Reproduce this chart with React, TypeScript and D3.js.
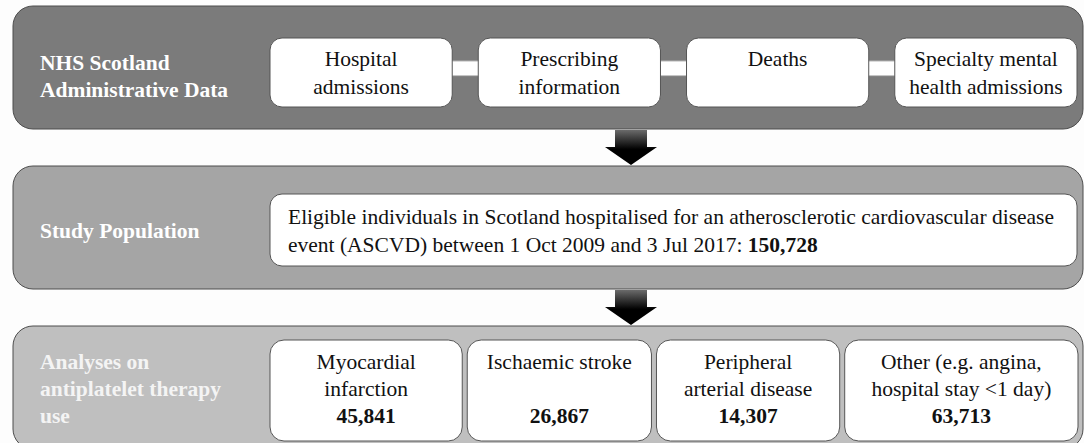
import React from 'react';
import * as d3 from 'd3';

// Flow of the study population, three stacked stages
const stageLabels = [
  ['NHS Scotland', 'Administrative Data'],
  ['Study Population'],
  ['Analyses on', 'antiplatelet therapy', 'use'],
];

const dataSources = [
  ['Hospital', 'admissions'],
  ['Prescribing', 'information'],
  ['Deaths'],
  ['Specialty mental', 'health admissions'],
];

const populationLines = [
  'Eligible individuals in Scotland hospitalised for an atherosclerotic cardiovascular disease',
  'event (ASCVD) between 1 Oct 2009 and 3 Jul 2017: ',
];
const populationTotal = 150728;

const subgroups = [
  ['Myocardial', 'infarction'],
  ['Ischaemic stroke'],
  ['Peripheral', 'arterial disease'],
  ['Other (e.g. angina,', 'hospital stay <1 day)'],
];
const subgroupCounts = [45841, 26867, 14307, 63713];

// layout
const width = 1084;
const height = 443;
const font = 'Liberation Serif, DejaVu Serif, serif';
const fs = 21.5;
const panelFill = ['#7b7b7b', '#a5a5a5', '#bfbfbf'];
const labelFill = ['#ffffff', '#ffffff', '#f4f4f4'];
const subgroupWeights = [192, 184, 183, 233];

const fmt = d3.format(',');

const App = () => {
  const panelY = d3.scaleLinear().domain([0, 1]).range([6, 166]);
  const panelH = 123;
  const panelX0 = 13;
  const panelX1 = 1083;
  const boxX0 = 270;
  const boxX1 = 1077;

  const sourceX = d3.scaleBand()
    .domain(d3.range(dataSources.length))
    .range([boxX0, boxX1])
    .paddingInner(0.125);

  // subgroup boxes of unequal width, packed with a small gap
  const gap = 5;
  const totalW = d3.sum(subgroupWeights);
  const avail = 1078 - boxX0 - gap * (subgroupWeights.length - 1);
  const wScale = d3.scaleLinear().domain([0, totalW]).range([0, avail]);
  const cum = d3.cumsum([0, ...subgroupWeights]);
  const subX = (i) => boxX0 + wScale(cum[i]) + gap * i;
  const subW = (i) => wScale(subgroupWeights[i]);

  const arrowX = 631;

  const arrow = (i) => {
    const top = panelY(i) + panelH + 1;
    const tip = panelY(i + 1) - 1;
    const headTop = tip - 18;
    const p = d3.path();
    p.moveTo(arrowX - 16, top);
    p.lineTo(arrowX + 16, top);
    p.lineTo(arrowX + 16, headTop);
    p.lineTo(arrowX + 26, headTop);
    p.lineTo(arrowX, tip);
    p.lineTo(arrowX - 26, headTop);
    p.lineTo(arrowX - 16, headTop);
    p.closePath();
    return <path key={'a' + i} d={p.toString()} fill="url(#arrowGrad)" />;
  };

  const label = (i) => (
    <text key={'l' + i} style={{ fontFamily: font }} fontWeight="bold" fontSize={fs} fill={labelFill[i]}>
      {stageLabels[i].map((s, j) => (
        <tspan key={j} x={40} y={panelY(i) + (i === 0 ? 64 : i === 1 ? 72 : 43) + j * 27}>{s}</tspan>
      ))}
    </text>
  );

  const y0 = panelY(0);
  const y1 = panelY(1);
  const y2 = panelY(2);

  return (
    <svg width={width} height={height} style={{ position: 'absolute', left: 0, top: 0, background: '#fdfdfd' }}>
      <defs>
        <linearGradient id="arrowGrad" x1="0" y1="0" x2="0" y2="1">
          <stop offset="0" stopColor="#6a6a6a" />
          <stop offset="0.55" stopColor="#000" />
          <stop offset="1" stopColor="#000" />
        </linearGradient>
      </defs>

      {[0, 1, 2].map((i) => (
        <rect key={'p' + i} x={panelX0} y={panelY(i)} width={panelX1 - panelX0} height={panelH}
          rx={20} fill={panelFill[i]} stroke="#4d4d4d" strokeWidth={1} />
      ))}

      {/* stage 1: data sources */}
      {dataSources.slice(1).map((_, i) => (
        <g key={'c' + i}>
          <rect x={sourceX(i) + sourceX.bandwidth() - 2} y={y0 + 55} width={sourceX.step() - sourceX.bandwidth() + 4} height={15} fill="#fff" />
          <line x1={sourceX(i) + sourceX.bandwidth()} x2={sourceX(i + 1)} y1={y0 + 55} y2={y0 + 55} stroke="#b5b5b5" />
          <line x1={sourceX(i) + sourceX.bandwidth()} x2={sourceX(i + 1)} y1={y0 + 70} y2={y0 + 70} stroke="#8a8a8a" />
        </g>
      ))}
      {dataSources.map((lines, i) => (
        <g key={'s' + i}>
          <rect x={sourceX(i)} y={y0 + 32} width={sourceX.bandwidth()} height={69} rx={12}
            fill="#fff" stroke="#555" strokeWidth={1} />
          <text style={{ fontFamily: font }} fontSize={fs} fill="#111" textAnchor="middle">
            {lines.map((s, j) => (
              <tspan key={j} x={sourceX(i) + sourceX.bandwidth() / 2} y={y0 + 60 + j * 28}>{s}</tspan>
            ))}
          </text>
        </g>
      ))}

      {/* stage 2: study population */}
      <rect x={boxX0} y={y1 + 28} width={boxX1 - boxX0} height={72} rx={12} fill="#fff" stroke="#555" />
      <text style={{ fontFamily: font }} fontSize={fs} fill="#111">
        <tspan x={boxX0 + 18} y={y1 + 58}>{populationLines[0]}</tspan>
        <tspan x={boxX0 + 18} y={y1 + 86}>{populationLines[1]}<tspan fontWeight="bold">{fmt(populationTotal)}</tspan></tspan>
      </text>

      {/* stage 3: subgroups */}
      {subgroups.map((lines, i) => (
        <g key={'g' + i}>
          <rect x={subX(i)} y={y2 + 14} width={subW(i)} height={101} rx={14}
            fill="#fff" stroke="#555" strokeWidth={1} />
          <text style={{ fontFamily: font }} fontSize={fs} fill="#111" textAnchor="middle">
            {lines.map((s, j) => (
              <tspan key={j} x={subX(i) + subW(i) / 2} y={y2 + 43 + j * 26.5}>{s}</tspan>
            ))}
            <tspan x={subX(i) + subW(i) / 2} y={y2 + 97} fontWeight="bold">{fmt(subgroupCounts[i])}</tspan>
          </text>
        </g>
      ))}

      {[0, 1, 2].map(label)}
      {[0, 1].map(arrow)}
    </svg>
  );
};

export default App;
